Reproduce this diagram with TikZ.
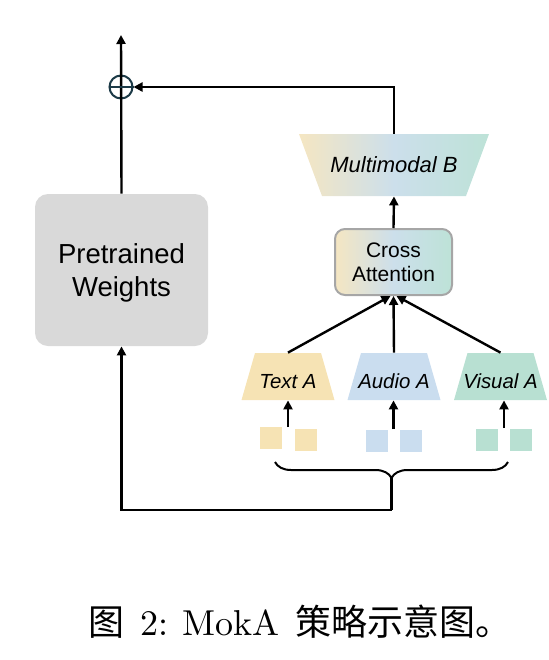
\documentclass[tikz,border=0pt]{standalone}
\usepackage{fontspec}
\newfontfamily\arial{Liberation Sans}
\newfontfamily\cjk{Noto Sans CJK SC}
\newfontfamily\lmten{lmroman10-regular.otf}
\usetikzlibrary{arrows.meta,decorations.pathreplacing,calc}
\definecolor{cY}{HTML}{F6E3B4}
\definecolor{cB}{HTML}{CADDEF}
\definecolor{cG}{HTML}{B8E0D2}
\definecolor{gY}{HTML}{F5E6C2}
\definecolor{gB}{HTML}{CCDFEB}
\definecolor{gG}{HTML}{BDE2D7}
\definecolor{pwgray}{HTML}{D9D9D9}
\definecolor{circ}{HTML}{1C3A47}
\definecolor{cagray}{HTML}{A6A6A6}
\begin{document}
\begin{tikzpicture}[x=0.5pt,y=-0.5pt,
  ln/.style={line width=1.2pt},
  arr/.style={line width=1.2pt,-{Triangle[length=4.5pt,width=4.5pt]}},
  sq/.style={minimum size=11pt,inner sep=0pt},
  trapA/.style={minimum width=46.5pt,minimum height=23.5pt,inner sep=0pt,text depth=0pt,text height=11.8pt,
    font=\arial\itshape\fontsize{10.2}{12}\selectfont,
    path picture={\fill[#1] (path picture bounding box.south west) -- (path picture bounding box.south east)
      -- ([xshift=-6.75pt]path picture bounding box.north east) -- ([xshift=6.75pt]path picture bounding box.north west) -- cycle;}},
]
\useasboundingbox (0,0) rectangle (548,660);

% pretrained weights
\node[fill=pwgray,rounded corners=6.5pt,minimum width=86.5pt,minimum height=76pt,align=center,
  text depth=0pt,font=\arial\fontsize{13.75}{16.5}\selectfont] (pw) at (121.5,270) {Pretrained\\Weights\rule[-2.5pt]{0pt}{0pt}};

% multimodal B
\node[minimum width=95pt,minimum height=31pt,inner sep=0pt,
  font=\arial\itshape\fontsize{11}{13}\selectfont,
  path picture={\shade[left color=gY,right color=gG,middle color=gB]
    (path picture bounding box.north west) -- (path picture bounding box.north east)
    -- ([xshift=-11.5pt]path picture bounding box.south east) -- ([xshift=11.5pt]path picture bounding box.south west) -- cycle;}]
  (mb) at (394,165) {Multimodal B};

% cross attention
\node[rounded corners=5pt,draw=cagray,line width=1pt,left color=gY,right color=gG,middle color=gB,
  minimum width=58.5pt,minimum height=33pt,inner sep=0pt,align=center,text depth=0pt,
  font=\arial\fontsize{10.5}{12}\selectfont] (ca) at (393.5,262) {Cross\\Attention};

% modality adapters
\node[trapA=cY] (tA) at (288,376.5) {Text A};
\node[trapA=cB] (aA) at (394,376.5) {Audio A};
\node[trapA=cG] (vA) at (500.5,376.5) {Visual A};

% tokens
\node[sq,fill=cY] (t1) at (271,438) {};
\node[sq,fill=cY] (t2) at (305.5,440) {};
\node[sq,fill=cB] (a1) at (377,441) {};
\node[sq,fill=cB] (a2) at (411,441) {};
\node[sq,fill=cG] (v1) at (487,440) {};
\node[sq,fill=cG] (v2) at (521,440) {};

\coordinate (ti) at (288,427);
\coordinate (ai) at (393.5,429);
\coordinate (vi) at (504,428);
\draw[arr] (ti) -- (ti |- tA.south);
\draw[arr] (ai) -- (ai |- aA.south);
\draw[arr] (vi) -- (vi |- vA.south);

\draw[arr] (tA.north) -- ([xshift=-1.5pt]ca.south);
\draw[arr] (aA.north) -- (ca.south);
\draw[arr] (vA.north) -- ([xshift=1.5pt]ca.south);
\draw[arr] (ca.north) -- (mb.south);

% brace
\coordinate (bR) at (508,462);
\coordinate (bL) at (275,462);
\coordinate (btip) at (391.5,478);
\coordinate (turn) at (391.5,510);
\draw[line width=1pt,decorate,decoration={brace,amplitude=8pt}] (bR) -- (bL);
\draw[ln] (btip) -- (turn);
\draw[arr] (turn) -| (pw.south);

% residual sum
\node[circle,draw=circ,line width=1pt,minimum size=11.5pt,inner sep=0pt] (plus) at (121,87) {};
\coordinate (out) at (121,35);
\draw[arr] (pw.north) -- (out);
\draw[circ,line width=1pt] (plus.west) -- (plus.east);
\draw[arr] (mb.north) |- (plus.east);

% caption
\node[font=\lmten\fontsize{18}{22}\selectfont,inner sep=0pt] (cap) at (300,622)
  {{\cjk 图}\hspace{8pt}2:\hspace{7pt}MokA\hspace{8pt}{\cjk 策略示意图。}};
\end{tikzpicture}
\end{document}
